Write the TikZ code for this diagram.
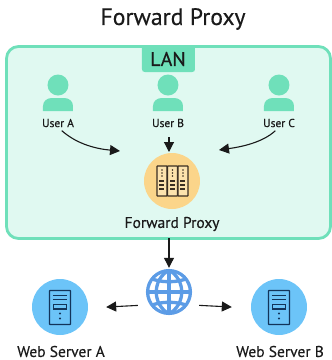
\documentclass[tikz,border=0pt]{standalone}
\usepackage{fontspec}
\setmainfont[FakeBold=0.35]{PT Sans}
\usetikzlibrary{arrows.meta}
\definecolor{lanfill}{HTML}{E0F9F1}
\definecolor{langreen}{HTML}{6FE0BA}
\definecolor{proxyfill}{HTML}{FBD58A}
\definecolor{icondark}{HTML}{3A2E22}
\definecolor{serverblue}{HTML}{6CC4F8}
\definecolor{serverdark}{HTML}{12345A}
\definecolor{globeblue}{HTML}{5C9CE6}
\definecolor{inkc}{HTML}{1A1A1A}
\tikzset{
  x=1pt,y=-1pt,
  conn/.style={draw=inkc,line width=1.1pt,-{Triangle[length=10pt,width=10pt]}},
  lab/.style={text=inkc,inner sep=0pt,anchor=center},
  userlab/.style={lab,font=\fontsize{11.5}{13}\selectfont},
  biglab/.style={lab,font=\fontsize{15.5}{18}\selectfont},
  usr/.style={fill=langreen,draw=none},
  disc/.style={circle,minimum size=56pt,inner sep=0pt,draw=none},
  gridline/.style={draw=globeblue,line width=3.3pt},
}
\newcommand{\drawuser}[1]{%
  \fill[usr] (#1,85) circle (10.5);
  \fill[usr] (#1-15,111) -- (#1-15,106) .. controls (#1-15,101) and (#1-11,98) .. (#1-6,98) -- (#1+6,98) .. controls (#1+11,98) and (#1+15,101) .. (#1+15,106) -- (#1+15,111) -- cycle;
}
\newcommand{\drawserver}[1]{%
  \draw[serverdark,line width=1.1pt,rounded corners=0.5pt] (#1-10.5,290.5) rectangle (#1+10.5,324.5);
  \draw[serverdark,line width=1.1pt] (#1-7,295.5) -- (#1+7,295.5) (#1-7,299.5) -- (#1+7,299.5);
  \draw[serverdark,line width=1.1pt] (#1-6.5,304.5) rectangle (#1+6.5,309);
  \fill[serverdark] (#1,313.5) circle (1.1) (#1,318.5) circle (1.1);
}
\newcommand{\rackcol}[1]{%
  \draw[icondark,line width=1.1pt,rounded corners=0.5pt,fill=proxyfill!70!white] (#1,166) rectangle ++(10,30);
  \foreach \yy in {170,173,176}{\fill[icondark] (#1+5,\yy) circle (0.9);}
  \foreach \yy in {181,185,189}{\fill[icondark] (#1+2.5,\yy-1) rectangle (#1+7.5,\yy+1);}
}
\begin{document}
\begin{tikzpicture}
\useasboundingbox (0,0) rectangle (332,360);
\node[lab,font=\fontsize{23.7}{28}\selectfont] (title) at (173,19) {Forward Proxy};
\draw[draw=langreen,fill=lanfill,line width=2.8pt,rounded corners=12pt] (6.5,46.5) rectangle (330.5,238.5);
\fill[langreen] (142,46) -- (195,46) -- (195,69) .. controls (195,71) and (194,72) .. (192,72) -- (145,72) .. controls (143,72) and (142,71) .. (142,69) -- cycle;
\node[lab,font=\fontsize{19.9}{24}\selectfont] (lan) at (168,59) {LAN};
\drawuser{58}\drawuser{168}\drawuser{279}
\node[userlab] (ua) at (58,123) {User A};
\node[userlab] (ub) at (168,123) {User B};
\node[userlab] (uc) at (279,123) {User C};
\node[disc,fill=proxyfill] (proxy) at (172,181) {};
\rackcol{157}\rackcol{167.5}\rackcol{178}
\node[biglab] (plabel) at (172,224) {Forward Proxy};
\coordinate (lanbottom) at (169,238);
\coordinate (ta) at (120,151);
\coordinate (tc) at (219,150);
\coordinate (tb) at (169,152);
\coordinate (sba) at (169,137);
\node[circle,minimum size=46pt,inner sep=0pt,fill=white] (globe) at (169,292) {};
\begin{scope}
\clip (169,292) circle (22);
\draw[gridline] (169,270) -- (169,314);
\draw[gridline] (169,270) .. controls (152,280) and (152,304) .. (169,314);
\draw[gridline] (169,270) .. controls (186,280) and (186,304) .. (169,314);
\draw[gridline] (146,292) -- (192,292);
\draw[gridline] (150,278) .. controls (160,283) and (178,283) .. (188,278);
\draw[gridline] (150,306) .. controls (160,301) and (178,301) .. (188,306);
\end{scope}
\draw[gridline] (169,292) circle (21.4);
\node[disc,fill=serverblue] (sa) at (60,307) {};
\node[disc,fill=serverblue] (sb) at (279,307) {};
\drawserver{60}\drawserver{279}
\node[biglab] (sala) at (61,351.5) {Web Server A};
\node[biglab] (salb) at (280,351.5) {Web Server B};
\draw[conn] (sba) -- (tb);
\draw[conn,shorten <=5pt] (ua.south) .. controls (78,145) and (98,149) .. (ta);
\draw[conn,shorten <=5pt] (uc.south) .. controls (262,143) and (240,147) .. (tc);
\draw[conn,shorten >=1pt] (lanbottom) -- (globe.north);
\draw[conn,shorten <=8pt,shorten >=18pt] (globe.west |- 0,305) -- (sa.east |- 0,308);
\draw[conn,shorten <=7pt,shorten >=19pt] (globe.east |- 0,305) -- (sb.west |- 0,308);
\end{tikzpicture}
\end{document}
